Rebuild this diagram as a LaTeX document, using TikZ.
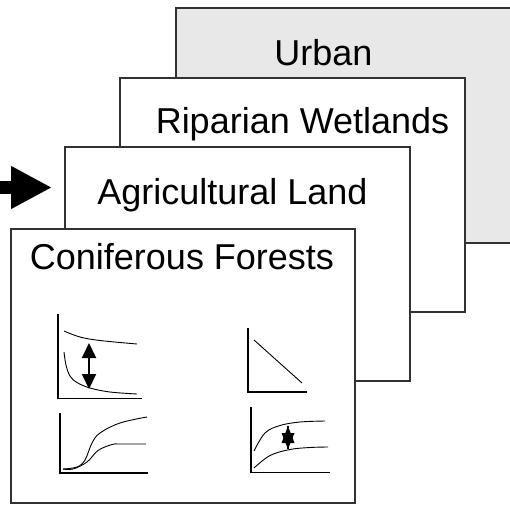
\documentclass[tikz,border=0pt]{standalone}
\usepackage{fontspec}
\setmainfont{Liberation Sans}
\usetikzlibrary{arrows.meta}
\definecolor{urbangray}{RGB}{232,232,232}
\definecolor{edgegray}{RGB}{50,50,50}
\tikzset{
  panel/.style={draw=edgegray, line width=1.2pt, fill=white, anchor=north west, inner sep=0pt, outer sep=0pt},
  lbl/.style={anchor=base, inner sep=0pt, font=\fontsize{36}{42}\selectfont},
  axis/.style={line width=1.1pt, black},
  curve/.style={line width=0.9pt, black},
  dblarrow/.style={line width=2pt, {Triangle[length=15pt 0 0,width=14pt 0 0]}-{Triangle[length=15pt 0 0,width=14pt 0 0]}},
  bigarrow/.style={line width=13pt, -{Triangle[length=41pt 0 0,width=40pt 0 0]}}
}
\begin{document}
\begin{tikzpicture}[x=1pt,y=-1pt]
\clip (0,0) rectangle (510,505);
% panels
\node[panel, fill=urbangray, minimum width=350pt, minimum height=235pt] (urban) at (176,8) {};
\node[panel, minimum width=345pt, minimum height=234pt] (riparian) at (120,78) {};
\node[panel, minimum width=345pt, minimum height=234pt] (agri) at (65,147) {};
\node[panel, minimum width=344pt, minimum height=274pt] (conif) at (11,229) {};
% labels
\node[lbl] (urbanlbl) at (323.5,66) {Urban};
\node[lbl] (riplbl) at (302.5,133) {Riparian Wetlands};
\node[lbl] (agrilbl) at (232.5,204) {Agricultural Land};
\node[lbl] (coniflbl) at (182,269) {Coniferous Forests};
% block arrow
\coordinate (src) at (-3,187.5);
\coordinate (tip) at (52,187.5);
\draw[bigarrow] (src) -- (tip);
% chart 1
\draw[axis] (58,314) -- (58,398.5) -- (142,398.5);
\draw[curve] plot[smooth, tension=0.6] coordinates {(64,331) (80,337) (100,340.5) (137,344)};
\draw[curve] plot[smooth, tension=0.6] coordinates {(64,352) (66,365) (70,376) (77,382.5) (90,388) (110,392) (137,394)};
\coordinate (c1a) at (89,343);
\coordinate (c1b) at (89,389);
\draw[dblarrow] (c1a) -- (c1b);
% chart 2
\draw[axis] (248,328) -- (248,392) -- (307,392);
\draw[curve] (254,340) -- (302,383);
% chart 3
\draw[axis] (60,413) -- (60,473) -- (148,473);
\draw[curve] plot[smooth, tension=0.6] coordinates {(63,469) (77,467) (85,460) (92,443) (100,433) (120,423) (147,417)};
\draw[curve] plot[smooth, tension=0.6] coordinates {(63,469) (73,469) (87,462) (98,450.5) (112,444.5) (120,444) (146,444)};
% chart 4
\draw[axis] (251,407) -- (251,472.5) -- (330,472.5);
\draw[curve] plot[smooth, tension=0.6] coordinates {(254,451) (265,433) (280,425.5) (300,422) (325,421)};
\draw[curve] plot[smooth, tension=0.6] coordinates {(254,468) (270,455.5) (290,449.5) (310,447.5) (328,447)};
\coordinate (st) at (288,426);
\coordinate (sb) at (288,449);
\fill (st) -- ([xshift=-6.5pt,yshift=-17pt]st) -- ([xshift=6.5pt,yshift=-17pt]st) -- cycle;
\fill (sb) -- ([xshift=-6.5pt,yshift=16pt]sb) -- ([xshift=6.5pt,yshift=16pt]sb) -- cycle;
\draw[line width=2pt] (st) -- (sb);
\end{tikzpicture}
\end{document}
